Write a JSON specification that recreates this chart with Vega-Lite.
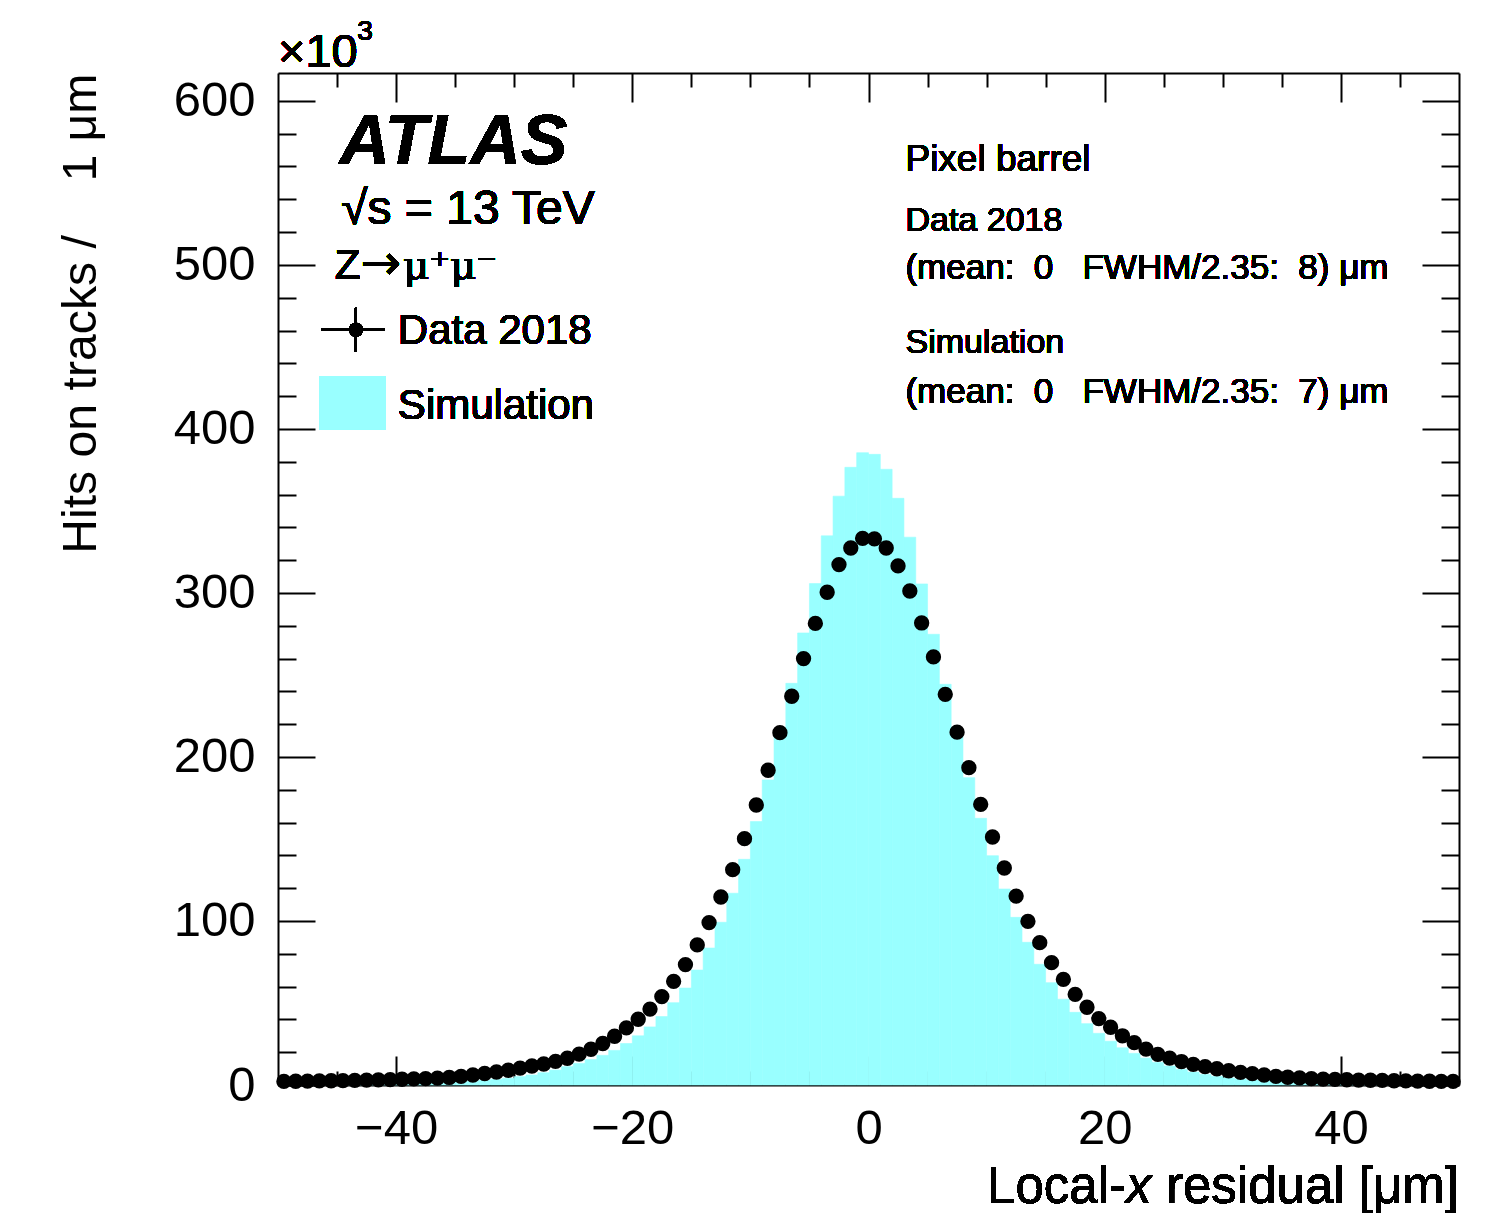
{
  "$schema": "https://vega.github.io/schema/vega-lite/v6.json",
  "autosize": "none",
  "width": 1181,
  "height": 1012,
  "padding": {"left": 278, "top": 73, "right": 42, "bottom": 128},
  "background": "white",
  "config": {
    "font": "Liberation Sans",
    "view": {"stroke": null},
    "axis": {
      "grid": false,
      "domainColor": "black",
      "domainWidth": 2,
      "tickColor": "black",
      "tickWidth": 2,
      "labelColor": "black",
      "labelFont": "Liberation Sans",
      "labelFontSize": 49,
      "labelOverlap": false,
      "labelFlush": false,
      "titleColor": "black",
      "titleFont": "Liberation Sans",
      "titleFontWeight": "normal"
    }
  },
  "data": {
    "values": [
      {"x": -49.5, "lo": -50, "hi": -49, "data": 2.2, "sim": 0.2},
      {"x": -48.5, "lo": -49, "hi": -48, "data": 2.3, "sim": 0.22},
      {"x": -47.5, "lo": -48, "hi": -47, "data": 2.4, "sim": 0.25},
      {"x": -46.5, "lo": -47, "hi": -46, "data": 2.5, "sim": 0.28},
      {"x": -45.5, "lo": -46, "hi": -45, "data": 2.6, "sim": 0.32},
      {"x": -44.5, "lo": -45, "hi": -44, "data": 2.7, "sim": 0.36},
      {"x": -43.5, "lo": -44, "hi": -43, "data": 2.8, "sim": 0.4},
      {"x": -42.5, "lo": -43, "hi": -42, "data": 3.0, "sim": 0.45},
      {"x": -41.5, "lo": -42, "hi": -41, "data": 3.1, "sim": 0.5},
      {"x": -40.5, "lo": -41, "hi": -40, "data": 3.3, "sim": 0.6},
      {"x": -39.5, "lo": -40, "hi": -39, "data": 3.5, "sim": 0.7},
      {"x": -38.5, "lo": -39, "hi": -38, "data": 3.7, "sim": 0.8},
      {"x": -37.5, "lo": -38, "hi": -37, "data": 3.9, "sim": 1.0},
      {"x": -36.5, "lo": -37, "hi": -36, "data": 4.2, "sim": 1.2},
      {"x": -35.5, "lo": -36, "hi": -35, "data": 4.6, "sim": 1.5},
      {"x": -34.5, "lo": -35, "hi": -34, "data": 5.3, "sim": 1.8},
      {"x": -33.5, "lo": -34, "hi": -33, "data": 6.1, "sim": 2.3},
      {"x": -32.5, "lo": -33, "hi": -32, "data": 7.0, "sim": 2.9},
      {"x": -31.5, "lo": -32, "hi": -31, "data": 7.9, "sim": 3.5},
      {"x": -30.5, "lo": -31, "hi": -30, "data": 9.0, "sim": 4.1},
      {"x": -29.5, "lo": -30, "hi": -29, "data": 10.3, "sim": 5.1},
      {"x": -28.5, "lo": -29, "hi": -28, "data": 11.6, "sim": 6.1},
      {"x": -27.5, "lo": -28, "hi": -27, "data": 12.8, "sim": 7.5},
      {"x": -26.5, "lo": -27, "hi": -26, "data": 14.4, "sim": 9.1},
      {"x": -25.5, "lo": -26, "hi": -25, "data": 16.3, "sim": 11.2},
      {"x": -24.5, "lo": -25, "hi": -24, "data": 18.8, "sim": 13.2},
      {"x": -23.5, "lo": -24, "hi": -23, "data": 21.8, "sim": 15.5},
      {"x": -22.5, "lo": -23, "hi": -22, "data": 25.3, "sim": 18.1},
      {"x": -21.5, "lo": -22, "hi": -21, "data": 29.7, "sim": 21.1},
      {"x": -20.5, "lo": -21, "hi": -20, "data": 34.8, "sim": 25.3},
      {"x": -19.5, "lo": -20, "hi": -19, "data": 40.1, "sim": 30.0},
      {"x": -18.5, "lo": -19, "hi": -18, "data": 46.3, "sim": 35.4},
      {"x": -17.5, "lo": -18, "hi": -17, "data": 53.9, "sim": 41.7},
      {"x": -16.5, "lo": -17, "hi": -16, "data": 63.2, "sim": 50.2},
      {"x": -15.5, "lo": -16, "hi": -15, "data": 73.4, "sim": 59.1},
      {"x": -14.5, "lo": -15, "hi": -14, "data": 85.4, "sim": 70.1},
      {"x": -13.5, "lo": -14, "hi": -13, "data": 99.0, "sim": 83.5},
      {"x": -12.5, "lo": -13, "hi": -12, "data": 114.6, "sim": 99.2},
      {"x": -11.5, "lo": -12, "hi": -11, "data": 131.3, "sim": 116.9},
      {"x": -10.5, "lo": -11, "hi": -10, "data": 150.2, "sim": 137.6},
      {"x": -9.5, "lo": -10, "hi": -9, "data": 170.7, "sim": 160.6},
      {"x": -8.5, "lo": -9, "hi": -8, "data": 191.9, "sim": 186.0},
      {"x": -7.5, "lo": -8, "hi": -7, "data": 214.8, "sim": 214.6},
      {"x": -6.5, "lo": -7, "hi": -6, "data": 237.0, "sim": 244.9},
      {"x": -5.5, "lo": -6, "hi": -5, "data": 260.0, "sim": 275.6},
      {"x": -4.5, "lo": -5, "hi": -4, "data": 281.4, "sim": 305.7},
      {"x": -3.5, "lo": -4, "hi": -3, "data": 300.4, "sim": 334.8},
      {"x": -2.5, "lo": -3, "hi": -2, "data": 317.3, "sim": 359.0},
      {"x": -1.5, "lo": -2, "hi": -1, "data": 327.4, "sim": 376.6},
      {"x": -0.5, "lo": -1, "hi": 0, "data": 333.3, "sim": 385.5},
      {"x": 0.5, "lo": 0, "hi": 1, "data": 333.0, "sim": 384.5},
      {"x": 1.5, "lo": 1, "hi": 2, "data": 327.4, "sim": 375.4},
      {"x": 2.5, "lo": 2, "hi": 3, "data": 316.5, "sim": 357.7},
      {"x": 3.5, "lo": 3, "hi": 4, "data": 301.2, "sim": 334.0},
      {"x": 4.5, "lo": 4, "hi": 5, "data": 281.7, "sim": 305.5},
      {"x": 5.5, "lo": 5, "hi": 6, "data": 261.0, "sim": 274.8},
      {"x": 6.5, "lo": 6, "hi": 7, "data": 238.2, "sim": 244.3},
      {"x": 7.5, "lo": 7, "hi": 8, "data": 215.1, "sim": 214.6},
      {"x": 8.5, "lo": 8, "hi": 9, "data": 193.5, "sim": 187.4},
      {"x": 9.5, "lo": 9, "hi": 10, "data": 171.1, "sim": 162.6},
      {"x": 10.5, "lo": 10, "hi": 11, "data": 151.2, "sim": 139.8},
      {"x": 11.5, "lo": 11, "hi": 12, "data": 132.3, "sim": 119.5},
      {"x": 12.5, "lo": 12, "hi": 13, "data": 115.2, "sim": 102.2},
      {"x": 13.5, "lo": 13, "hi": 14, "data": 99.8, "sim": 87.0},
      {"x": 14.5, "lo": 14, "hi": 15, "data": 86.8, "sim": 73.6},
      {"x": 15.5, "lo": 15, "hi": 16, "data": 74.6, "sim": 62.4},
      {"x": 16.5, "lo": 16, "hi": 17, "data": 64.4, "sim": 52.3},
      {"x": 17.5, "lo": 17, "hi": 18, "data": 55.3, "sim": 44.3},
      {"x": 18.5, "lo": 18, "hi": 19, "data": 47.4, "sim": 37.4},
      {"x": 19.5, "lo": 19, "hi": 20, "data": 40.5, "sim": 31.5},
      {"x": 20.5, "lo": 20, "hi": 21, "data": 35.2, "sim": 26.7},
      {"x": 21.5, "lo": 21, "hi": 22, "data": 30.0, "sim": 22.7},
      {"x": 22.5, "lo": 22, "hi": 23, "data": 25.8, "sim": 19.3},
      {"x": 23.5, "lo": 23, "hi": 24, "data": 21.9, "sim": 16.4},
      {"x": 24.5, "lo": 24, "hi": 25, "data": 18.7, "sim": 13.8},
      {"x": 25.5, "lo": 25, "hi": 26, "data": 16.4, "sim": 11.6},
      {"x": 26.5, "lo": 26, "hi": 27, "data": 14.3, "sim": 9.6},
      {"x": 27.5, "lo": 27, "hi": 28, "data": 12.6, "sim": 7.9},
      {"x": 28.5, "lo": 28, "hi": 29, "data": 11.2, "sim": 6.5},
      {"x": 29.5, "lo": 29, "hi": 30, "data": 9.9, "sim": 5.3},
      {"x": 30.5, "lo": 30, "hi": 31, "data": 8.7, "sim": 4.3},
      {"x": 31.5, "lo": 31, "hi": 32, "data": 7.7, "sim": 3.7},
      {"x": 32.5, "lo": 32, "hi": 33, "data": 6.9, "sim": 3.0},
      {"x": 33.5, "lo": 33, "hi": 34, "data": 6.1, "sim": 2.4},
      {"x": 34.5, "lo": 34, "hi": 35, "data": 5.3, "sim": 2.0},
      {"x": 35.5, "lo": 35, "hi": 36, "data": 4.7, "sim": 1.6},
      {"x": 36.5, "lo": 36, "hi": 37, "data": 4.3, "sim": 1.3},
      {"x": 37.5, "lo": 37, "hi": 38, "data": 3.9, "sim": 1.1},
      {"x": 38.5, "lo": 38, "hi": 39, "data": 3.6, "sim": 0.9},
      {"x": 39.5, "lo": 39, "hi": 40, "data": 3.4, "sim": 0.8},
      {"x": 40.5, "lo": 40, "hi": 41, "data": 3.2, "sim": 0.7},
      {"x": 41.5, "lo": 41, "hi": 42, "data": 3.0, "sim": 0.6},
      {"x": 42.5, "lo": 42, "hi": 43, "data": 2.9, "sim": 0.5},
      {"x": 43.5, "lo": 43, "hi": 44, "data": 2.8, "sim": 0.45},
      {"x": 44.5, "lo": 44, "hi": 45, "data": 2.6, "sim": 0.4},
      {"x": 45.5, "lo": 45, "hi": 46, "data": 2.5, "sim": 0.35},
      {"x": 46.5, "lo": 46, "hi": 47, "data": 2.4, "sim": 0.3},
      {"x": 47.5, "lo": 47, "hi": 48, "data": 2.3, "sim": 0.27},
      {"x": 48.5, "lo": 48, "hi": 49, "data": 2.2, "sim": 0.24},
      {"x": 49.5, "lo": 49, "hi": 50, "data": 2.2, "sim": 0.22}
    ]
  },
  "resolve": {"axis": {"x": "independent", "y": "independent"}},
  "layer": [
    {
      "mark": {"type": "bar", "color": "#99ffff", "stroke": "#99ffff", "strokeWidth": 0.6},
      "encoding": {
        "x": {
          "field": "lo", "type": "quantitative",
          "scale": {"domain": [-50, 50], "nice": false, "zero": false},
          "axis": {
            "orient": "bottom",
            "values": [-45, -40, -35, -30, -25, -20, -15, -10, -5, 0, 5, 10, 15, 20, 25, 30, 35, 40, 45],
            "tickSize": {"condition": {"test": "datum.value % 20 === 0", "value": -29}, "value": -14},
            "labelExpr": "datum.value % 20 === 0 ? datum.label : ''",
            "labelPadding": 48,
            "title": null
          }
        },
        "x2": {"field": "hi"},
        "y": {
          "field": "sim", "type": "quantitative",
          "scale": {"domain": [0, 617], "nice": false, "zero": true},
          "axis": {
            "orient": "left",
            "values": [0, 20, 40, 60, 80, 100, 120, 140, 160, 180, 200, 220, 240, 260, 280, 300, 320, 340, 360, 380, 400, 420, 440, 460, 480, 500, 520, 540, 560, 580, 600],
            "tickSize": {"condition": {"test": "datum.value % 100 === 0", "value": -37}, "value": -18},
            "labelExpr": "datum.value % 100 === 0 ? datum.label : ''",
            "labelPadding": 60,
            "title": "Hits on tracks /\u00a0\u00a0\u00a0 1 μm",
            "titleFontSize": 48.2,
            "titleAngle": -90,
            "titleAnchor": "end",
            "titleAlign": "right",
            "titleBaseline": "alphabetic",
            "titleX": -183,
            "titleY": 0
          }
        },
        "y2": {"datum": 0}
      }
    },
    {
      "mark": {"type": "point", "filled": true, "shape": "circle", "color": "black", "opacity": 1, "size": 235},
      "encoding": {
        "x": {
          "field": "x", "type": "quantitative",
          "axis": {
            "orient": "top",
            "values": [-45, -40, -35, -30, -25, -20, -15, -10, -5, 0, 5, 10, 15, 20, 25, 30, 35, 40, 45],
            "tickSize": {"condition": {"test": "datum.value % 20 === 0", "value": -29}, "value": -14},
            "labels": false,
            "title": null
          }
        },
        "y": {
          "field": "data", "type": "quantitative",
          "axis": {
            "orient": "right",
            "values": [0, 20, 40, 60, 80, 100, 120, 140, 160, 180, 200, 220, 240, 260, 280, 300, 320, 340, 360, 380, 400, 420, 440, 460, 480, 500, 520, 540, 560, 580, 600],
            "tickSize": {"condition": {"test": "datum.value % 100 === 0", "value": -37}, "value": -18},
            "labels": false,
            "title": null
          }
        }
      }
    },
    {
      "mark": {"type": "text", "text": "Local-", "align": "right", "baseline": "alphabetic", "fontSize": 51, "font": "Liberation Sans", "color": "black"},
      "encoding": {"x": {"datum": 21.8, "type": "quantitative", "axis": null}, "y": {"datum": -72, "type": "quantitative", "axis": null}}
    },
    {
      "mark": {"type": "text", "text": "x", "align": "right", "baseline": "alphabetic", "fontSize": 51, "font": "Liberation Sans", "fontStyle": "italic", "color": "black"},
      "encoding": {"x": {"datum": 23.96, "type": "quantitative", "axis": null}, "y": {"datum": -72, "type": "quantitative", "axis": null}}
    },
    {
      "mark": {"type": "text", "text": " residual [μm]", "align": "right", "baseline": "alphabetic", "fontSize": 51, "font": "Liberation Sans", "color": "black"},
      "encoding": {"x": {"datum": 50, "type": "quantitative", "axis": null}, "y": {"datum": -72, "type": "quantitative", "axis": null}}
    },
    {
      "mark": {"type": "text", "text": "×10", "align": "left", "baseline": "alphabetic", "fontSize": 47, "font": "Liberation Sans", "color": "black"},
      "encoding": {"x": {"datum": -50, "type": "quantitative", "axis": null}, "y": {"datum": 620.8, "type": "quantitative", "axis": null}}
    },
    {
      "mark": {"type": "text", "text": "3", "align": "left", "baseline": "alphabetic", "fontSize": 28, "font": "Liberation Sans", "color": "black"},
      "encoding": {"x": {"datum": -43.3, "type": "quantitative", "axis": null}, "y": {"datum": 637, "type": "quantitative", "axis": null}}
    },
    {
      "mark": {"type": "text", "text": "ATLAS", "align": "left", "baseline": "alphabetic", "fontSize": 70, "font": "Liberation Sans", "fontWeight": "bold", "fontStyle": "italic", "color": "black"},
      "encoding": {"x": {"datum": -44.8, "type": "quantitative", "axis": null}, "y": {"datum": 561.6, "type": "quantitative", "axis": null}}
    },
    {
      "mark": {"type": "text", "text": "√s = 13 TeV", "align": "left", "baseline": "alphabetic", "fontSize": 48, "font": "Liberation Sans", "color": "black"},
      "encoding": {"x": {"datum": -44.65, "type": "quantitative", "axis": null}, "y": {"datum": 525.0, "type": "quantitative", "axis": null}}
    },
    {
      "mark": {"type": "text", "text": "Z", "align": "left", "baseline": "alphabetic", "fontSize": 42, "font": "Liberation Sans", "color": "black"},
      "encoding": {"x": {"datum": -45.2, "type": "quantitative", "axis": null}, "y": {"datum": 491.2, "type": "quantitative", "axis": null}}
    },
    {
      "mark": {"type": "text", "text": "→", "align": "left", "baseline": "alphabetic", "fontSize": 48, "font": "DejaVu Sans", "color": "black"},
      "encoding": {"x": {"datum": -43.0, "type": "quantitative", "axis": null}, "y": {"datum": 491.2, "type": "quantitative", "axis": null}}
    },
    {
      "mark": {"type": "text", "text": "μ⁺μ⁻", "align": "left", "baseline": "alphabetic", "fontSize": 40, "font": "DejaVu Serif", "color": "black"},
      "encoding": {"x": {"datum": -39.4, "type": "quantitative", "axis": null}, "y": {"datum": 491.2, "type": "quantitative", "axis": null}}
    },
    {
      "mark": {"type": "rule", "color": "black", "strokeWidth": 2},
      "encoding": {"x": {"datum": -46.3, "type": "quantitative", "axis": null}, "x2": {"datum": -41.0}, "y": {"datum": 460.4, "type": "quantitative", "axis": null}}
    },
    {
      "mark": {"type": "rule", "color": "black", "strokeWidth": 2},
      "encoding": {"x": {"datum": -43.4, "type": "quantitative", "axis": null}, "y": {"datum": 447.1, "type": "quantitative", "axis": null}, "y2": {"datum": 473.8}}
    },
    {
      "mark": {"type": "point", "filled": true, "shape": "circle", "color": "black", "opacity": 1, "size": 200},
      "encoding": {"x": {"datum": -43.4, "type": "quantitative", "axis": null}, "y": {"datum": 460.4, "type": "quantitative", "axis": null}}
    },
    {
      "mark": {"type": "text", "text": "Data 2018", "align": "left", "baseline": "alphabetic", "fontSize": 42, "font": "Liberation Sans", "color": "black"},
      "encoding": {"x": {"datum": -39.85, "type": "quantitative", "axis": null}, "y": {"datum": 451.6, "type": "quantitative", "axis": null}}
    },
    {
      "mark": {"type": "rect", "color": "#99ffff"},
      "encoding": {"x": {"datum": -46.5, "type": "quantitative", "axis": null}, "x2": {"datum": -40.9}, "y": {"datum": 432.3, "type": "quantitative", "axis": null}, "y2": {"datum": 399.8}}
    },
    {
      "mark": {"type": "text", "text": "Simulation", "align": "left", "baseline": "alphabetic", "fontSize": 42, "font": "Liberation Sans", "color": "black"},
      "encoding": {"x": {"datum": -39.85, "type": "quantitative", "axis": null}, "y": {"datum": 406.1, "type": "quantitative", "axis": null}}
    },
    {
      "mark": {"type": "text", "text": "Pixel barrel", "align": "left", "baseline": "alphabetic", "fontSize": 37, "font": "Liberation Sans", "color": "black"},
      "encoding": {"x": {"datum": 3.13, "type": "quantitative", "axis": null}, "y": {"datum": 557.4, "type": "quantitative", "axis": null}}
    },
    {
      "mark": {"type": "text", "text": "Data 2018", "align": "left", "baseline": "alphabetic", "fontSize": 34, "font": "Liberation Sans", "color": "black"},
      "encoding": {"x": {"datum": 3.13, "type": "quantitative", "axis": null}, "y": {"datum": 520.9, "type": "quantitative", "axis": null}}
    },
    {
      "mark": {"type": "text", "text": "(mean:\u00a0\u00a00\u00a0\u00a0\u00a0FWHM/2.35:\u00a0\u00a08)\u00a0μm", "align": "left", "baseline": "alphabetic", "fontSize": 35, "font": "Liberation Sans", "color": "black"},
      "encoding": {"x": {"datum": 3.13, "type": "quantitative", "axis": null}, "y": {"datum": 491.2, "type": "quantitative", "axis": null}}
    },
    {
      "mark": {"type": "text", "text": "Simulation", "align": "left", "baseline": "alphabetic", "fontSize": 34, "font": "Liberation Sans", "color": "black"},
      "encoding": {"x": {"datum": 3.13, "type": "quantitative", "axis": null}, "y": {"datum": 446.1, "type": "quantitative", "axis": null}}
    },
    {
      "mark": {"type": "text", "text": "(mean:\u00a0\u00a00\u00a0\u00a0\u00a0FWHM/2.35:\u00a0\u00a07)\u00a0μm", "align": "left", "baseline": "alphabetic", "fontSize": 35, "font": "Liberation Sans", "color": "black"},
      "encoding": {"x": {"datum": 3.13, "type": "quantitative", "axis": null}, "y": {"datum": 416.0, "type": "quantitative", "axis": null}}
    }
  ]
}
